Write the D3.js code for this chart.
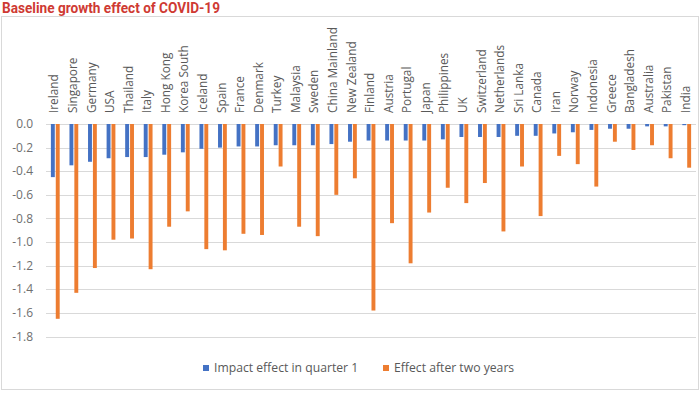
<!DOCTYPE html>
<html>
<head>
<meta charset="utf-8">
<script src="https://cdn.jsdelivr.net/npm/d3@7"></script>
<style>
  html, body { margin: 0; padding: 0; background: #fff; }
  svg { display: block; }
</style>
</head>
<body>
<svg id="chart" width="700" height="400"></svg>
<script>
const countries = ["Ireland","Singapore","Germany","USA","Thailand","Italy","Hong Kong","Korea South","Iceland","Spain","France","Denmark","Turkey","Malaysia","Sweden","China Mainland","New Zealand","Finland","Austria","Portugal","Japan","Philippines","UK","Switzerland","Netherlands","Sri Lanka","Canada","Iran","Norway","Indonesia","Greece","Bangladesh","Australia","Pakistan","India"];
const impactQ1 = [-0.45,-0.35,-0.32,-0.29,-0.28,-0.28,-0.26,-0.24,-0.21,-0.20,-0.19,-0.19,-0.18,-0.18,-0.18,-0.17,-0.15,-0.14,-0.14,-0.14,-0.14,-0.13,-0.11,-0.11,-0.11,-0.10,-0.10,-0.08,-0.07,-0.05,-0.04,-0.04,-0.02,-0.02,-0.01];
const afterTwoYears = [-1.65,-1.43,-1.22,-0.98,-0.97,-1.23,-0.87,-0.74,-1.06,-1.07,-0.93,-0.94,-0.36,-0.87,-0.95,-0.60,-0.46,-1.58,-0.84,-1.18,-0.75,-0.54,-0.67,-0.50,-0.91,-0.36,-0.78,-0.27,-0.34,-0.53,-0.15,-0.22,-0.18,-0.29,-0.37];
const yTicks = [0,-0.2,-0.4,-0.6,-0.8,-1.0,-1.2,-1.4,-1.6,-1.8];
const seriesNames = ["Impact effect in quarter 1","Effect after two years"];
const colors = ["#4472C4","#ED7D31"];

const svg = d3.select("#chart");

// Title
svg.append("text")
  .attr("x", 2).attr("y", 13)
  .attr("font-family", "'Liberation Sans Narrow', 'Roboto', sans-serif")
  .attr("font-weight", "bold")
  .attr("font-size", 15)
  .attr("fill", "#cf3a33")
  .attr("textLength", 218)
  .attr("lengthAdjust", "spacingAndGlyphs")
  .text("Baseline growth effect of COVID-19");

// Frame
svg.append("rect")
  .attr("x", 1.5).attr("y", 16.5)
  .attr("width", 697).attr("height", 373)
  .attr("fill", "none")
  .attr("stroke", "#d9d9d9");

const x = d3.scaleBand().domain(countries).range([46, 696]);
const y = d3.scaleLinear().domain([-1.8, 0]).range([336.5, 124]);
const x1 = d3.scaleBand().domain([0, 1]).range([x.bandwidth()/2 - 4.4, x.bandwidth()/2 + 4.4]).paddingInner(0.2);

// Gridlines
svg.append("g").selectAll("line").data(yTicks).join("line")
  .attr("x1", 46).attr("x2", 696)
  .attr("y1", d => Math.round(y(d)) + 0.5).attr("y2", d => Math.round(y(d)) + 0.5)
  .attr("stroke", "#d9d9d9").attr("stroke-width", 1);

// Y axis labels
svg.append("g").selectAll("text").data(yTicks).join("text")
  .attr("x", 33).attr("y", d => y(d))
  .attr("dy", "0.35em")
  .attr("text-anchor", "end")
  .attr("font-family", "'Open Sans', sans-serif")
  .attr("font-size", 12)
  .attr("fill", "#6f6f6f")
  .text(d => d.toFixed(1));

// Bars
const groups = svg.append("g").selectAll("g").data(countries).join("g")
  .attr("transform", d => `translate(${x(d)},0)`);

groups.selectAll("rect").data((d, i) => [impactQ1[i], afterTwoYears[i]]).join("rect")
  .attr("x", (d, j) => x1(j))
  .attr("width", x1.bandwidth())
  .attr("y", y(0))
  .attr("height", d => y(d) - y(0))
  .attr("fill", (d, j) => colors[j]);

// Category labels (rotated)
svg.append("g").selectAll("text").data(countries).join("text")
  .attr("transform", d => `translate(${x(d) + x.bandwidth()/2 - 1},113) rotate(-90)`)
  .attr("dy", "0.35em")
  .attr("text-anchor", "start")
  .attr("font-family", "'Open Sans', sans-serif")
  .attr("font-size", 11.8)
  .attr("fill", "#595959")
  .text(d => d);

// Legend
const legendX = [203, 383];
const legend = svg.append("g").selectAll("g").data(seriesNames).join("g")
  .attr("transform", (d, i) => `translate(${legendX[i]},365)`);
legend.append("rect").attr("width", 6).attr("height", 6).attr("fill", (d, i) => colors[i]);
legend.append("text")
  .attr("x", 11).attr("y", 3).attr("dy", "0.35em")
  .attr("font-family", "'Open Sans', sans-serif")
  .attr("font-size", 12.2)
  .attr("fill", "#595959")
  .text(d => d);
</script>
</body>
</html>
